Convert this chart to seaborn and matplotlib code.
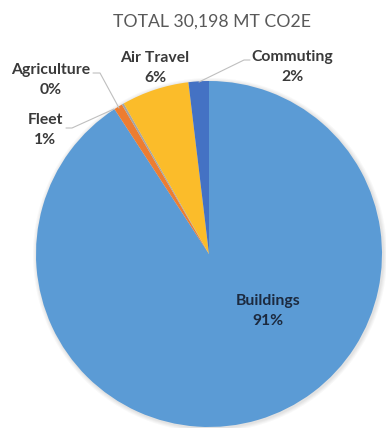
import numpy as np
import seaborn as sns
import matplotlib.pyplot as plt
from matplotlib.patches import Circle

categories = ['Buildings', 'Fleet', 'Agriculture', 'Air Travel', 'Commuting']
shares = [90.8, 0.8, 0.2, 6.3, 1.9]
colors = ['#5B9BD5', '#ED7D31', '#A5A5A5', '#FBBC2A', '#4472C4']
title = "TOTAL 30,198 MT CO2E"

sns.set_theme(style='white')
plt.rcParams['font.family'] = ['Lato', 'DejaVu Sans']

W, H = 386, 428
fig = plt.figure(figsize=(W / 100, H / 100), dpi=100)
ax = fig.add_axes([0, 0, 1, 1])

cx, cy, r = 209, H - 254, 173

# soft shadow round the pie
for k, a in enumerate([0.05, 0.05, 0.06, 0.07]):
    ax.add_patch(Circle((cx + 1, cy - 1), r + 4 - k, color='#7f7f7f', alpha=a, lw=0, zorder=0))

wedges, _ = ax.pie(shares, colors=colors, startangle=90, counterclock=False,
                   center=(cx, cy), radius=r, frame=True,
                   wedgeprops=dict(linewidth=0))
ax.set_xlim(0, W)
ax.set_ylim(0, H)
ax.set_aspect('equal')
ax.axis('off')

ax.text(212, H - 22, title, ha='center', va='center', fontsize=12.7, color='#595959')

lab = dict(ha='center', va='center', fontsize=11.3, fontweight='bold', color='#3a3a3a', linespacing=1.5)
pct = [f"{round(v):.0f}%" for v in shares]

ax.text(268, H - 311, f"{categories[0]}\n{pct[0]}", **dict(lab, color='#1c2a3f'))
ax.text(45, H - 130, f"{categories[1]}\n{pct[1]}", **lab)
ax.text(51, H - 80, f"{categories[2]}\n{pct[2]}", **lab)
ax.text(155, H - 68, f"{categories[3]}\n{pct[3]}", **lab)
ax.text(292, H - 67, f"{categories[4]}\n{pct[4]}", **lab)

# leader lines
ax.plot([66, 72, 114], [H - 128, H - 128, H - 109], color='#bfbfbf', lw=0.8)
ax.plot([93, 100, 119], [H - 73, H - 73, H - 108], color='#bfbfbf', lw=0.8)
ax.plot([250, 244, 199], [H - 60, H - 60, H - 82], color='#bfbfbf', lw=0.8)

fig.savefig('out.png', dpi=100)
